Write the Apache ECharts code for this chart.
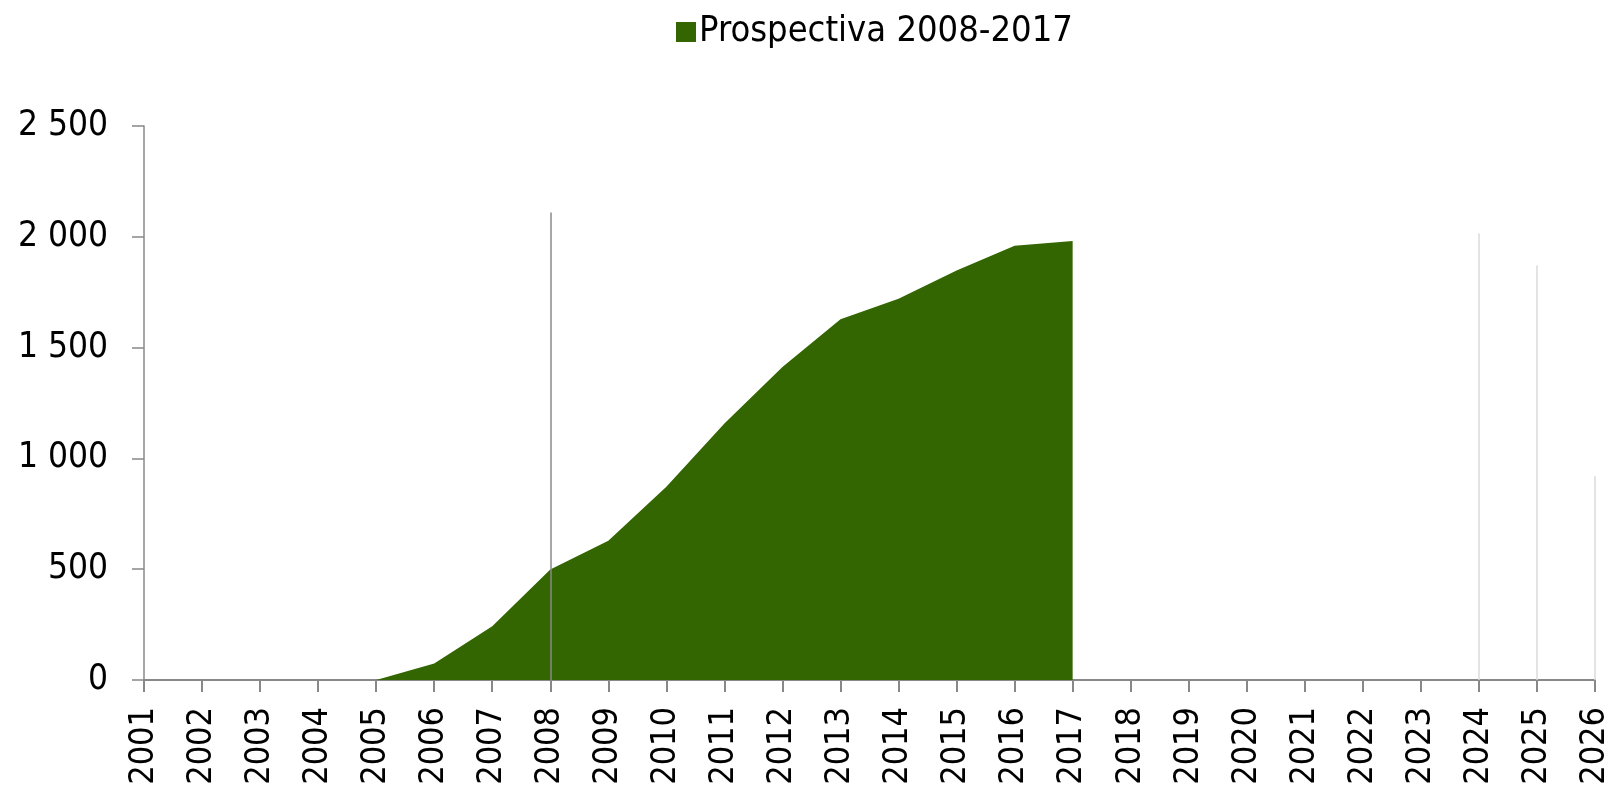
<!DOCTYPE html>
<html>
<head>
    <meta charset="UTF-8">
    <title>Prospectiva 2008-2017</title>
    <script src="https://cdn.jsdelivr.net/npm/echarts@6/dist/echarts.min.js"></script>
    <style>
        html, body { margin: 0; padding: 0; background: #fff; }
        #main { width: 1621px; height: 790px; }
    </style>
</head>
<body>
    <div id="main"></div>
    <script type="text/javascript">
        // categorias (anos)
        var years = ['2001', '2002', '2003', '2004', '2005', '2006', '2007', '2008', '2009', '2010',
            '2011', '2012', '2013', '2014', '2015', '2016', '2017', '2018', '2019', '2020',
            '2021', '2022', '2023', '2024', '2025', '2026'];
        // serie Prospectiva 2008-2017
        var prospectiva = [null, null, null, null, 0, 75, 243, 499, 628, 872,
            1158, 1413, 1628, 1721, 1848, 1960, 1981, null, null, null,
            null, null, null, null, null, null];
        var yTicks = [0, 500, 1000, 1500, 2000, 2500];
        // linha vertical em 2008
        var refYear = '2008';
        var refTop = 2110;
        // tracos claros a direita (restos de outras series)
        var ghostYears = ['2024', '2025', '2026'];
        var ghostTops = [2015, 1870, 920];

        var myChart = echarts.init(document.getElementById('main'));

        var fmt = function (v) {
            return String(v).replace(/\B(?=(\d{3})+(?!\d))/g, ' ');
        };

        var markData = [
            [{ coord: [refYear, 0], lineStyle: { color: '#8a8a8a', width: 1.5, type: 'solid' } }, { coord: [refYear, refTop] }]
        ];
        for (var i = 0; i < ghostYears.length; i++) {
            markData.push([
                { coord: [ghostYears[i], 0], lineStyle: { color: '#dadada', width: 1.5, type: 'solid' } },
                { coord: [ghostYears[i], ghostTops[i]] }
            ]);
        }

        var option = {
            animation: false,
            textStyle: { fontFamily: 'DejaVu Sans Condensed' },
            legend: {
                left: 671,
                top: 9,
                itemWidth: 20,
                itemHeight: 20,
                itemGap: 10,
                icon: 'rect',
                textStyle: { fontSize: 36, color: '#000', fontFamily: 'DejaVu Sans Condensed', padding: [0, 0, 0, -2] },
                data: ['Prospectiva 2008-2017']
            },
            grid: {
                left: 144,
                right: 26,
                top: 126,
                bottom: 110,
                containLabel: false
            },
            xAxis: {
                type: 'category',
                boundaryGap: false,
                data: years,
                axisLine: { lineStyle: { color: '#888', width: 2 } },
                axisTick: { length: 12, alignWithLabel: true, lineStyle: { color: '#888', width: 2 }, interval: 0 },
                axisLabel: {
                    rotate: 90,
                    interval: 0,
                    margin: 27,
                    fontSize: 34,
                    color: '#000',
                    fontFamily: 'DejaVu Sans Condensed'
                },
                splitLine: { show: false }
            },
            yAxis: {
                type: 'value',
                min: yTicks[0],
                max: yTicks[yTicks.length - 1],
                interval: 500,
                axisLine: { show: true, lineStyle: { color: '#888', width: 1.5 } },
                axisTick: { show: true, inside: false, length: 12, lineStyle: { color: '#888', width: 1.5 } },
                axisLabel: {
                    margin: 36,
                    fontSize: 35,
                    color: '#000',
                    fontFamily: 'DejaVu Sans Condensed',
                    formatter: fmt
                },
                splitLine: { show: false }
            },
            series: [
                {
                    name: 'Prospectiva 2008-2017',
                    type: 'line',
                    data: prospectiva,
                    showSymbol: false,
                    symbol: 'none',
                    smooth: false,
                    color: '#336600',
                    lineStyle: { width: 0, color: '#336600' },
                    areaStyle: { color: '#336600', opacity: 1 },
                    markLine: {
                        silent: true,
                        symbol: ['none', 'none'],
                        label: { show: false },
                        lineStyle: { type: 'solid' },
                        data: markData
                    }
                }
            ]
        };

        myChart.setOption(option);
    </script>
</body>
</html>
